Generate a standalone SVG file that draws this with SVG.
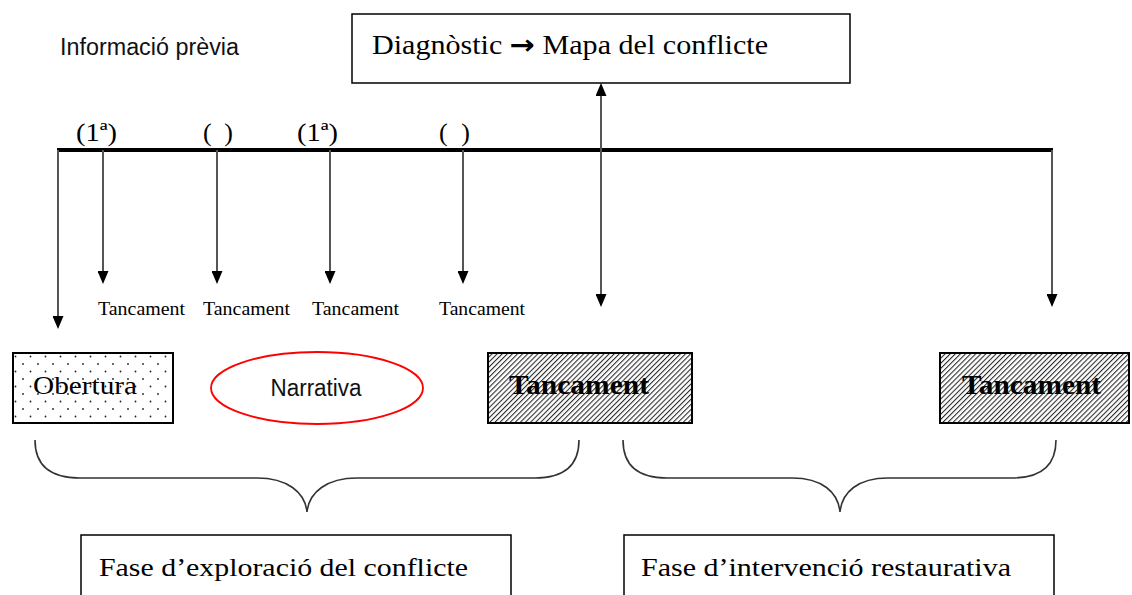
<svg xmlns="http://www.w3.org/2000/svg" width="1132" height="595" viewBox="0 0 1132 595">
<style>
.serif{font-family:"Liberation Serif","Times New Roman",serif;fill:#000}
.sans{font-family:"Liberation Sans",Arial,sans-serif;fill:#111}
.box{fill:#fff;stroke:#000;stroke-width:1.5}
.conn{stroke:#555;stroke-width:2;fill:none}
.brace{stroke:#333;stroke-width:1.6;fill:none}
</style>
<defs>
<marker id="ah" viewBox="0 0 13 11" refX="1" refY="5.5" markerWidth="13" markerHeight="11" markerUnits="userSpaceOnUse" orient="auto-start-reverse">
<path d="M0,0 L13,5.5 L0,11 z" fill="#000"/>
</marker>
<pattern id="dots" width="15" height="15" patternUnits="userSpaceOnUse" x="6" y="2">
<rect width="15" height="15" fill="#fff"/>
<circle cx="2" cy="2" r="0.9" fill="#222"/>
<circle cx="9.5" cy="9.5" r="0.9" fill="#222"/>
</pattern>
<pattern id="hatch" width="3.6" height="3.6" patternUnits="userSpaceOnUse" patternTransform="rotate(45)">
<rect width="3.6" height="3.6" fill="#fff"/>
<line x1="0.6" y1="0" x2="0.6" y2="3.6" stroke="#000" stroke-width="0.9"/>
</pattern>
</defs>

<g id="info-previa">
<text class="sans" x="60" y="55" font-size="23" textLength="179" lengthAdjust="spacingAndGlyphs">Informació prèvia</text>
</g>

<g id="diagnostic">
<rect class="box" x="352" y="14" width="498" height="69"/>
<text class="serif" x="372" y="54" font-size="27" textLength="396" lengthAdjust="spacingAndGlyphs">Diagnòstic <tspan font-family="DejaVu Sans, sans-serif" font-weight="bold">→</tspan> Mapa del conflicte</text>
</g>

<g id="timeline-labels">
<text class="serif" x="76" y="141" font-size="26" textLength="41" lengthAdjust="spacingAndGlyphs">(1ª)</text>
<text class="serif" x="203" y="141" font-size="26" textLength="30" lengthAdjust="spacing">( )</text>
<text class="serif" x="297" y="141" font-size="26" textLength="41" lengthAdjust="spacingAndGlyphs">(1ª)</text>
<text class="serif" x="439" y="141" font-size="26" textLength="31" lengthAdjust="spacing">( )</text>
</g>

<g id="connectors">
<line x1="57" y1="150" x2="1053" y2="150" stroke="#000" stroke-width="4"/>
<line class="conn" x1="58" y1="150" x2="58" y2="317" marker-end="url(#ah)"/>
<line class="conn" x1="103" y1="150" x2="103" y2="272" marker-end="url(#ah)"/>
<line class="conn" x1="217" y1="150" x2="217" y2="272" marker-end="url(#ah)"/>
<line class="conn" x1="330" y1="150" x2="330" y2="272" marker-end="url(#ah)"/>
<line class="conn" x1="463" y1="150" x2="463" y2="272" marker-end="url(#ah)"/>
<line class="conn" x1="601" y1="95" x2="601" y2="295" marker-start="url(#ah)" marker-end="url(#ah)"/>
<line class="conn" x1="1052" y1="150" x2="1052" y2="295" marker-end="url(#ah)"/>
<path class="brace" d="M35,440 C35,465 50,478 80,478 L257,478 C287,478 305,492 307,512 C309,492 327,478 357,478 L535,478 C565,478 579,465 579,440"/>
<path class="brace" d="M623,440 C623,465 637,478 667,478 L792,478 C822,478 838,492 840,512 C842,492 858,478 888,478 L1012,478 C1042,478 1056,465 1056,440"/>
</g>

<g id="tancament-labels">
<text class="serif" x="98" y="315" font-size="18" textLength="87" lengthAdjust="spacingAndGlyphs">Tancament</text>
<text class="serif" x="203" y="315" font-size="18" textLength="87" lengthAdjust="spacingAndGlyphs">Tancament</text>
<text class="serif" x="312" y="315" font-size="18" textLength="87" lengthAdjust="spacingAndGlyphs">Tancament</text>
<text class="serif" x="439" y="315" font-size="18" textLength="86" lengthAdjust="spacingAndGlyphs">Tancament</text>
</g>

<g id="obertura">
<rect x="13" y="353" width="160" height="70" fill="url(#dots)" stroke="#000" stroke-width="2"/>
<text class="serif" x="33" y="394" font-size="25" textLength="104" lengthAdjust="spacingAndGlyphs">Obertura</text>
</g>

<g id="narrativa">
<ellipse cx="317" cy="388" rx="106" ry="36" fill="#fff" stroke="#f00" stroke-width="1.8"/>
<text class="sans" x="316" y="396" font-size="23" text-anchor="middle" textLength="91" lengthAdjust="spacingAndGlyphs">Narrativa</text>
</g>

<g id="tancament-1">
<rect x="488" y="353" width="204" height="70" fill="url(#hatch)" stroke="#000" stroke-width="2"/>
<text class="serif" x="509" y="394" font-size="28" font-weight="bold" textLength="140" lengthAdjust="spacingAndGlyphs">Tancament</text>
</g>

<g id="tancament-2">
<rect x="940" y="353" width="189" height="70" fill="url(#hatch)" stroke="#000" stroke-width="2"/>
<text class="serif" x="962" y="394" font-size="28" font-weight="bold" textLength="139" lengthAdjust="spacingAndGlyphs">Tancament</text>
</g>

<g id="fase-exploracio">
<rect class="box" x="81" y="535" width="430" height="80"/>
<text class="serif" x="99" y="576" font-size="26" textLength="369" lengthAdjust="spacingAndGlyphs">Fase d’exploració del conflicte</text>
</g>

<g id="fase-intervencio">
<rect class="box" x="624" y="535" width="430" height="80"/>
<text class="serif" x="641" y="576" font-size="26" textLength="370" lengthAdjust="spacingAndGlyphs">Fase d’intervenció restaurativa</text>
</g>
</svg>
